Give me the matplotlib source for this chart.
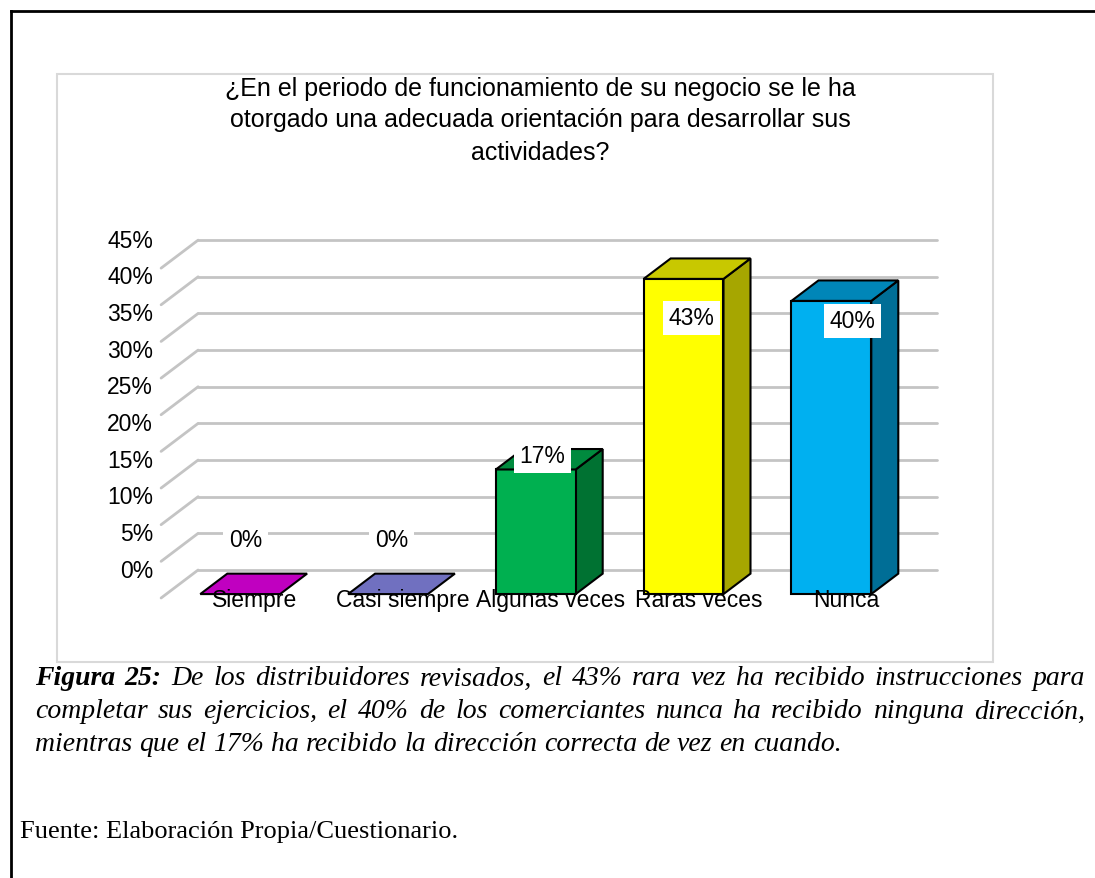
import matplotlib.pyplot as plt
from matplotlib.patches import Polygon, Rectangle
from matplotlib.lines import Line2D

# datos del grafico
categorias = ["Siempre", "Casi siempre", "Algunas veces", "Raras veces", "Nunca"]
porcentajes = [0, 0, 17, 43, 40]
etiquetas = ["0%", "0%", "17%", "43%", "40%"]
ticks = [0, 5, 10, 15, 20, 25, 30, 35, 40, 45]
tick_labels = ["0%", "5%", "10%", "15%", "20%", "25%", "30%", "35%", "40%", "45%"]

titulo = ["¿En el periodo de funcionamiento de su negocio se le ha",
          "otorgado una adecuada orientación para desarrollar sus",
          "actividades?"]
caption1 = "De los distribuidores revisados, el 43% rara vez ha recibido instrucciones para"
caption2 = "completar sus ejercicios, el 40% de los comerciantes nunca ha recibido ninguna dirección,"
caption3 = "mientras que el 17% ha recibido la dirección correcta de vez en cuando."
fuente = "Fuente: Elaboración Propia/Cuestionario."

# colores (frente, arriba, lado)
c_frente = ["#C000C0", "#7070C0", "#00B050", "#FFFF00", "#00B0F0"]
c_arriba = ["#C000C0", "#7070C0", "#008A3E", "#C8C800", "#0086B8"]
c_lado = ["#900090", "#545490", "#007232", "#A6A600", "#006E96"]

# posicion de las etiquetas de datos (desplazamiento x, altura en %)
lab_dx = [0.07, 0.06, 0.08, 0.09, 0.18]
lab_y = [8.0, 8.0, 19.4, 38.2, 37.8]

W, H = 1095, 879
fig = plt.figure(figsize=(W / 100, H / 100), dpi=100)

def px(x):
    return x / W

def py(y):
    return 1 - y / H

# eje: x en categorias, y en porcentaje
x0, sx = 235, 147.8
y0, sy = 599, 7.33
xlim = (-0.6, 4.85)
ylim = (-3, 52)
l = (x0 + sx * xlim[0]) / W
w = sx * (xlim[1] - xlim[0]) / W
b = (H - (y0 - sy * ylim[0])) / H
h = sy * (ylim[1] - ylim[0]) / H
ax = fig.add_axes([l, b, w, h])
ax.set_xlim(xlim)
ax.set_ylim(ylim)
ax.axis("off")

# profundidad pseudo 3d
DX = 37 / sx
DY = 28 / sy

def P(c, v, z):
    return (c + z * DX, v + z * DY)

# pared del fondo y lateral
for t, lbl in zip(ticks, tick_labels):
    a, bb = P(-0.5, t, 1), P(4.5, t, 1)
    ax.plot([a[0], bb[0]], [a[1], bb[1]], color="#c4c4c4", lw=2, solid_capstyle="round", zorder=1)
    f = P(-0.5, t, 0)
    ax.plot([f[0], a[0]], [f[1], a[1]], color="#c4c4c4", lw=2, solid_capstyle="round", zorder=1)
    ax.annotate(lbl, xy=(-0.5, t + DY), xytext=(-8, 0), textcoords="offset pixels",
                ha="right", va="center", fontsize=16.5, family="Liberation Sans")

# barras
z0, z1 = 0.14, 0.87
hw = 0.27
for i, v in enumerate(porcentajes):
    if v > 0:
        frente = [P(i - hw, 0, z0), P(i + hw, 0, z0), P(i + hw, v, z0), P(i - hw, v, z0)]
        lado = [P(i + hw, 0, z0), P(i + hw, 0, z1), P(i + hw, v, z1), P(i + hw, v, z0)]
        ax.add_patch(Polygon(lado, closed=True, fc=c_lado[i], ec="black", lw=1.5, zorder=3))
        ax.add_patch(Polygon(frente, closed=True, fc=c_frente[i], ec="black", lw=1.5, zorder=3))
    arriba = [P(i - hw, v, z0), P(i + hw, v, z0), P(i + hw, v, z1), P(i - hw, v, z1)]
    ax.add_patch(Polygon(arriba, closed=True, fc=c_arriba[i], ec="black", lw=1.5, zorder=3))

    ax.text(i + lab_dx[i], lab_y[i], etiquetas[i], ha="center", va="center", fontsize=16.5,
            family="Liberation Sans", zorder=5,
            bbox=dict(boxstyle="square,pad=0.25", fc="white", ec="none"))
    ax.text(i + 0.54 * DX, -0.15, categorias[i], ha="center", va="center", fontsize=16.5,
            family="Liberation Sans", zorder=6)

for linea_t, yt in zip(titulo, [89, 120, 153]):
    fig.text(px(540), py(yt), linea_t, ha="center", va="center", fontsize=18,
             family="Liberation Sans")

# marco del area del grafico y del documento
fig.add_artist(Rectangle((px(57), py(663)), px(993) - px(57), py(75) - py(663),
                         transform=fig.transFigure, fill=False, ec="#d9d9d9", lw=1.5))
fig.add_artist(Line2D([px(10.5), px(10.5)], [0, py(12)], color="black", lw=2))
fig.add_artist(Line2D([px(10.5), 1], [py(12), py(12)], color="black", lw=2))

# leyenda de la figura, justificada
r = fig.canvas.get_renderer()

def linea(y, palabras, xa, xb=None, size=20):
    objs = []
    for txt, peso in palabras:
        objs.append(fig.text(0, py(y), txt, fontsize=size, family="Liberation Serif",
                             style="italic", weight=peso, va="center"))
    anchos = [o.get_window_extent(r).width for o in objs]
    if xb is None:
        gap = 0.25 * size * 100 / 72
    else:
        gap = (xb - xa - sum(anchos)) / (len(objs) - 1)
    x = xa
    for o, a in zip(objs, anchos):
        o.set_x(px(x))
        x += a + gap

palabras1 = [("Figura", "bold"), ("25:", "bold")] + [(p, "normal") for p in caption1.split()]
linea(679, palabras1, 35, 1085)
linea(712, [(p, "normal") for p in caption2.split()], 35, 1085)
linea(745, [(p, "normal") for p in caption3.split()], 35)

fig.text(px(20), py(832), fuente, fontsize=19, family="Liberation Serif", va="center")

fig.savefig("out.png", dpi=100)
